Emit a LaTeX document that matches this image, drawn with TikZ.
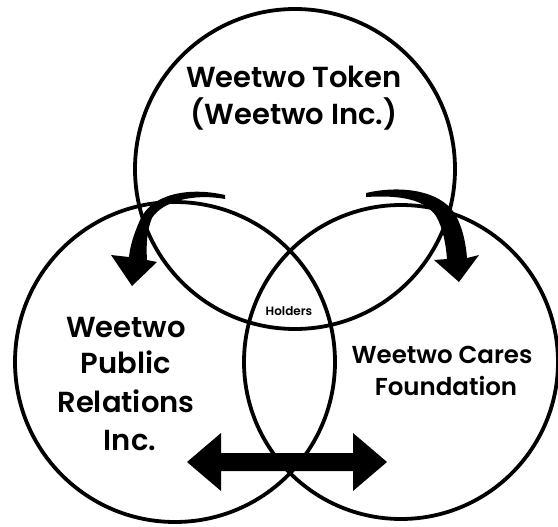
\documentclass[tikz,border=0pt]{standalone}
\usepackage{fontspec}
\setmainfont{Poppins}[BoldFont={Poppins SemiBold}]
\begin{document}
\begin{tikzpicture}[x=1pt,y=-1pt,
  ring/.style={circle,draw=black,line width=3.8pt,inner sep=0pt,outer sep=0pt},
  big/.style={font=\fontsize{29}{29}\selectfont\bfseries,anchor=base,inner sep=0pt},
  mid/.style={font=\fontsize{24.5}{24.5}\selectfont\bfseries,anchor=base,inner sep=0pt},
  small/.style={font=\fontsize{12}{12}\selectfont\bfseries,anchor=base,inner sep=0pt},
  solidarrow/.style={fill=black,draw=none}]
\useasboundingbox (0,0) rectangle (558,527);
\node[ring,minimum size=320pt] (topc) at (295,169) {};
\node[ring,minimum size=320pt] (leftc) at (175,362) {};
\node[ring,minimum size=314pt] (rightc) at (401,362) {};
% curved arrow to the left circle
\fill[solidarrow] (225,195) .. controls (190,187) and (152,193) .. (140,220)
  .. controls (133,236) and (130,247) .. (129,257)
  -- (111,255) -- (132,286) -- (157,262) -- (147,260)
  .. controls (146,245) and (147,230) .. (152,218)
  .. controls (162,202) and (192,193) .. (225,199) -- cycle;
% curved arrow to the right circle
\fill[solidarrow] (366,193) .. controls (400,185) and (440,190) .. (455,214)
  .. controls (463,228) and (466,245) .. (467,258)
  -- (479,255) -- (459,282) -- (434,260) -- (447,259)
  .. controls (446,245) and (443,228) .. (436,216)
  .. controls (424,199) and (400,195) .. (366,197) -- cycle;
% double arrow
\fill[solidarrow] (187,462) -- (221,433) -- (221,453) -- (353,453) -- (353,433)
  -- (387,462) -- (353,491) -- (353,471) -- (221,471) -- (221,491) -- cycle;
% texts
\node[big] (t1) at (294,88) {Weetwo Token};
\node[big] (t2) at (294,125) {(Weetwo Inc.)};
\node[big] (l1) at (126,337) {Weetwo};
\node[big] (l2) at (126,373) {Public};
\node[big] (l3) at (126,412) {Relations};
\node[big] (l4) at (130,450) {Inc.};
\node[mid] (r1) at (442,363) {Weetwo Cares};
\node[mid] (r2) at (446,395) {Foundation};
\node[small] (h) at (289,315) {Holders};
\end{tikzpicture}
\end{document}
